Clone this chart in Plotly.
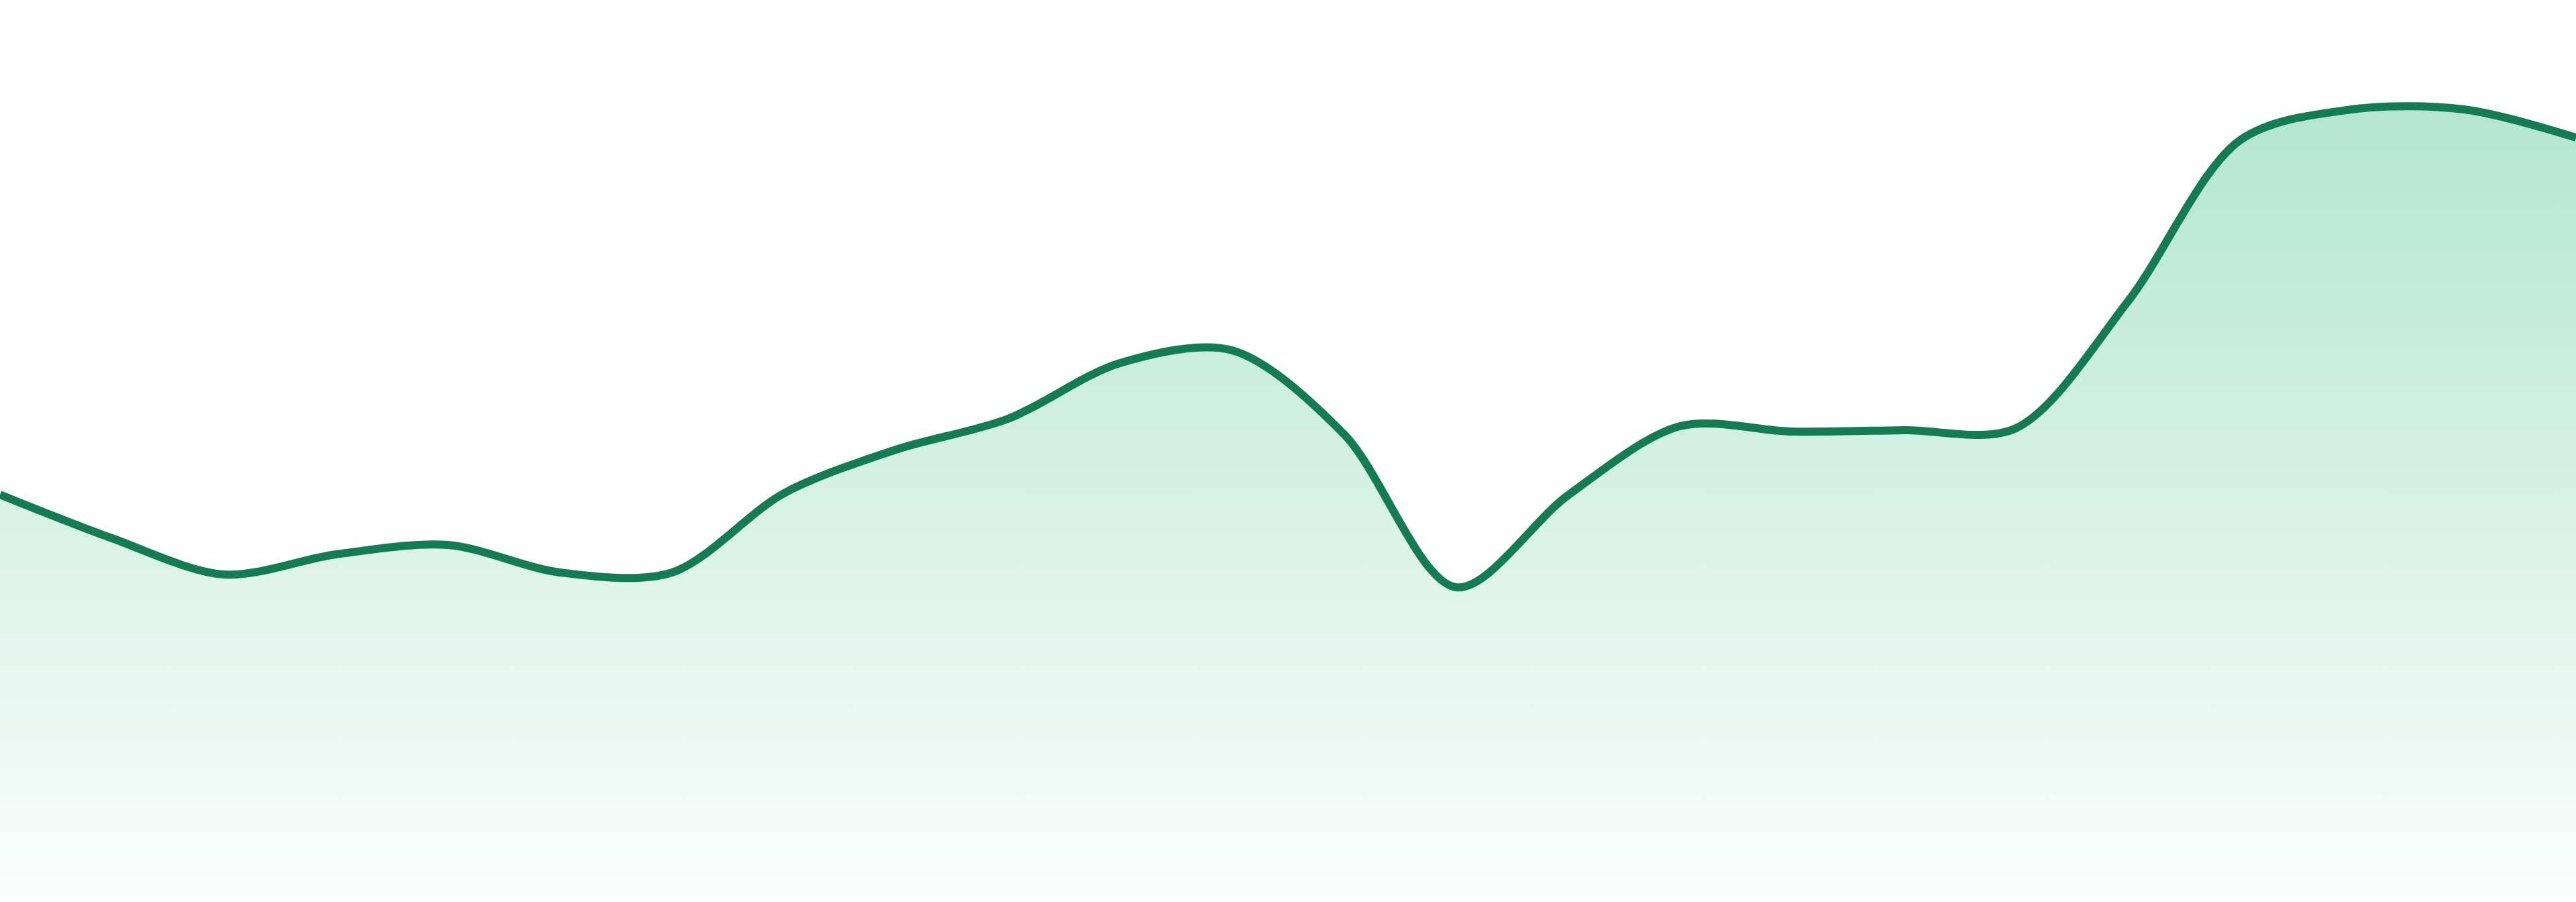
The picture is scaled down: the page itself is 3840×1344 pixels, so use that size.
import plotly.graph_objects as go

# one reading per step, left to right
steps = list(range(24))
values = [60.7, 54.2, 48.8, 51.8, 53.2, 49.1, 49.1, 60.9, 67.4, 72.0, 80.3, 82.2,
          69.7, 46.9, 60.6, 70.9, 70.1, 70.3, 70.6, 89.5, 113.5, 118.1, 118.1, 113.9]

line_color = "#137c53"

fig = go.Figure()
fig.add_trace(go.Scatter(
    x=steps,
    y=values,
    mode="lines",
    line=dict(color=line_color, width=12, shape="spline", smoothing=0.9),
    fill="tozeroy",
    fillgradient=dict(
        type="vertical",
        start=0,
        stop=max(values),
        colorscale=[[0, "rgba(46,184,126,0.02)"], [1, "rgba(46,184,126,0.36)"]],
    ),
    hoverinfo="skip",
    showlegend=False,
))

fig.update_layout(
    width=3840,
    height=1344,
    margin=dict(l=0, r=0, t=0, b=0),
    paper_bgcolor="white",
    plot_bgcolor="white",
    xaxis=dict(visible=False, range=[0, 23], fixedrange=True),
    yaxis=dict(visible=False, range=[0, 134.4], fixedrange=True),
)

# drop the page's default body margin so the area runs edge to edge
fig.write_html("out.html", config={"displayModeBar": False},
               post_script="document.body.style.margin='0';")
